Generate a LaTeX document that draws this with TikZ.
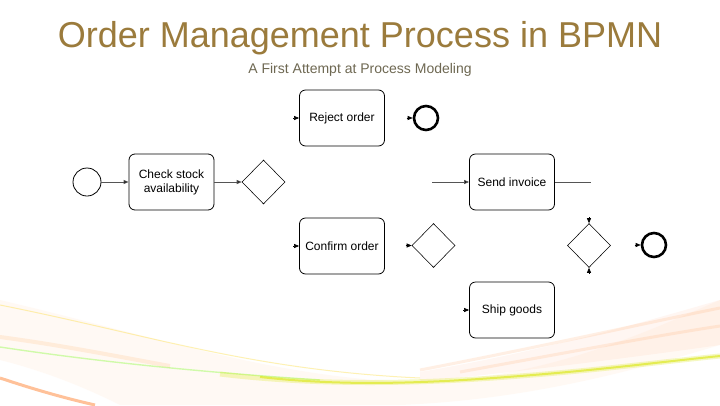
\documentclass[tikz,border=0pt]{standalone}
\usepackage{fontspec}
\setmainfont{Liberation Sans}
\usetikzlibrary{shapes.geometric,arrows.meta,calc}
\definecolor{titlecol}{HTML}{9B7B3C}
\definecolor{subcol}{HTML}{6E6852}
\definecolor{linecol}{HTML}{555555}
\tikzset{
  task/.style={draw=black, line width=0.8pt, rounded corners=6pt, minimum width=85pt, minimum height=56pt, align=center, inner sep=2pt, font=\fontsize{12}{14}\selectfont},
  startev/.style={draw=black, line width=0.8pt, circle, minimum size=28pt, inner sep=0pt},
  endev/.style={draw=black, line width=2.6pt, circle, minimum size=24pt, inner sep=0pt},
  gate/.style={draw=black, line width=0.55pt, diamond, minimum width=43pt, minimum height=44pt, inner sep=0pt},
  flow/.style={draw=linecol, line width=0.8pt, -{Triangle[length=5pt,width=4pt,fill=black]}},
  plainflow/.style={draw=linecol, line width=0.8pt},
  tip/.style={-{Triangle[length=5pt,width=4pt]}, draw=black, line width=0.6pt}
}
\begin{document}
\begin{tikzpicture}[x=1pt,y=-1pt]
\useasboundingbox (0,0) rectangle (720,405);
\fill[white] (0,0) rectangle (720,405);
% background swooshes
\begin{scope}
\clip (0,0) rectangle (720,405);
\fill[orange!20, opacity=0.2] (0,300) .. controls (150,335) and (280,380) .. (420,382) .. controls (550,378) and (650,330) .. (720,300) -- (720,345) .. controls (620,375) and (520,400) .. (400,405) -- (120,405) .. controls (80,385) and (40,370) .. (0,360) -- cycle;
\fill[pink!70!orange, opacity=0.1] (420,372) .. controls (550,350) and (650,320) .. (720,300) -- (720,345) .. controls (650,355) and (550,368) .. (420,382) -- cycle;
\draw[line width=1pt, yellow!70!orange, opacity=0.3] (0,305) .. controls (150,335) and (250,370) .. (420,378);
\draw[line width=4pt, orange!70, opacity=0.15] (0,337) .. controls (60,345) and (110,355) .. (170,366);
\draw[line width=1.4pt, green!60!yellow, opacity=0.3] (0,347) .. controls (100,362) and (200,372) .. (320,380);
\draw[line width=5pt, yellow!85!green, opacity=0.25] (220,374) .. controls (320,386) and (420,384) .. (520,376) .. controls (600,370) and (660,362) .. (720,356);
\draw[line width=2pt, yellow!85!green, opacity=0.6] (260,377) .. controls (340,386) and (420,384) .. (520,376) .. controls (600,370) and (660,362) .. (720,356);
\draw[line width=3pt, orange!60!pink, opacity=0.15] (420,370) .. controls (550,345) and (650,322) .. (720,308);
\draw[line width=3pt, orange!60!pink, opacity=0.15] (460,372) .. controls (570,352) and (660,335) .. (720,326);
\draw[line width=3pt, orange!80!red, opacity=0.4] (0,378) .. controls (30,388) and (60,397) .. (95,405);
\end{scope}
% titles
\node[anchor=base, text=titlecol, font=\fontsize{36}{40}\selectfont, inner sep=0pt] (title) at (360,47) {Order Management Process in BPMN};
\node[anchor=base, text=subcol, font=\fontsize{14}{16}\selectfont, inner sep=0pt] (subtitle) at (360,73) {A First Attempt at Process Modeling};
% nodes
\node[startev] (start) at (87,182) {};
\node[task] (check) at (171.5,182) {Check stock\\availability};
\node[gate] (g1) at (263.5,182) {};
\node[task] (reject) at (342,118) {Reject order};
\node[endev] (end1) at (426,118) {};
\node[task] (confirm) at (342,246) {Confirm order};
\node[gate] (g2) at (433.5,245.5) {};
\node[task] (invoice) at (512,182) {Send invoice};
\node[gate] (g3) at (589,245.5) {};
\node[endev] (end2) at (654,245) {};
\node[task] (ship) at (512,310) {Ship goods};
% free-end coordinates
\coordinate (rejin) at ($(reject.west)+(-6,0)$);
\coordinate (e1in) at ($(end1.west)+(-6,0)$);
\coordinate (confin) at ($(confirm.west)+(-6,0)$);
\coordinate (g2in) at ($(g2.west)+(-6,0)$);
\coordinate (invin) at ($(invoice.west)+(-37,0)$);
\coordinate (invout) at ($(invoice.east)+(36,0)$);
\coordinate (g3top) at ($(g3.north)+(0,-6)$);
\coordinate (g3bot) at ($(g3.south)+(0,6)$);
\coordinate (e2in) at ($(end2.west)+(-6,0)$);
\coordinate (shipin) at ($(ship.west)+(-6,0)$);
% connectors
\draw[flow] (start) -- (check);
\draw[flow] (check) -- (g1);
\draw[flow] (invin) -- (invoice);
\draw[plainflow] (invoice) -- (invout);
\draw[tip] (rejin) -- (reject);
\draw[tip] (e1in) -- (end1);
\draw[tip] (confin) -- (confirm);
\draw[tip] (g2in) -- (g2);
\draw[tip] (g3top) -- (g3.north);
\draw[tip] (g3bot) -- (g3.south);
\draw[tip] (e2in) -- (end2);
\draw[tip] (shipin) -- (ship);
\end{tikzpicture}
\end{document}
